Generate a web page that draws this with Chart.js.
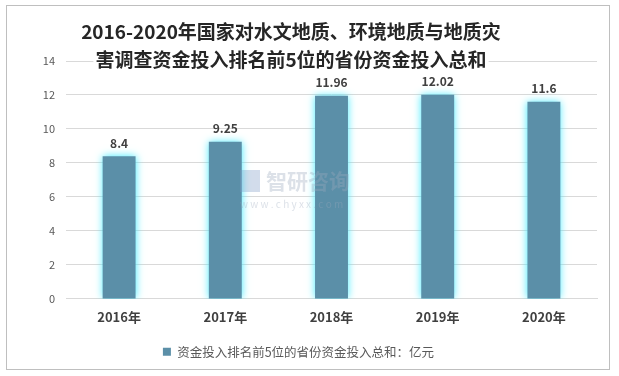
<!DOCTYPE html>
<html>
<head>
<meta charset="utf-8">
<script src="https://cdn.jsdelivr.net/npm/chart.js@4/dist/chart.umd.min.js"></script>
<style>
  html, body { margin: 0; padding: 0; background: #fff; }
  #wrap { position: relative; width: 619px; height: 376px; }
  #frame { position: absolute; left: 6px; top: 5px; width: 602px; height: 363px; border: 1px solid #bfbfbf; pointer-events: none; }
</style>
</head>
<body>
<div id="wrap">
  <canvas id="grafico" width="619" height="376"></canvas>
  <div id="frame"></div>
</div>
<script>
const ctxId = 'grafico';

var anios = ["2016年", "2017年", "2018年", "2019年", "2020年"];
var inversion = [8.4, 9.25, 11.96, 12.02, 11.6];
var yTicks = [0, 2, 4, 6, 8, 10, 12, 14];
var serieNombre = "资金投入排名前5位的省份资金投入总和：亿元";
var tituloLineas = ["2016-2020年国家对水文地质、环境地质与地质灾", "害调查资金投入排名前5位的省份资金投入总和"];

const fuente = "'Microsoft YaHei', 'Noto Sans CJK SC', sans-serif";

// glow around bars
const brillo = {
    id: 'brillo',
    beforeDatasetsDraw(chart) {
        const c = chart.ctx;
        c.save();
        c.shadowColor = 'rgba(70, 235, 255, 1)';
        c.shadowBlur = 8;
    },
    afterDatasetsDraw(chart) {
        chart.ctx.restore();
    }
};

// value labels, title and watermark
const textos = {
    id: 'textos',
    afterDraw(chart) {
        const c = chart.ctx;
        const meta = chart.getDatasetMeta(0);
        c.save();
        c.fillStyle = '#404040';
        c.font = "bold 12px " + fuente;
        c.textAlign = 'center';
        c.textBaseline = 'bottom';
        meta.data.forEach(function (bar, i) {
            c.fillText(String(inversion[i]), bar.x, bar.y - 7);
        });

        // watermark
        c.globalAlpha = 0.35;
        c.fillStyle = '#9aa9bd';
        c.font = "bold 21px " + fuente;
        c.textAlign = 'left';
        c.textBaseline = 'middle';
        c.fillText("智研咨询", 266, 181);
        c.font = "10px " + fuente;
        c.fillText("w w w . c h y x x . c o m", 240, 204);
        c.fillStyle = '#7f9cc7';
        c.fillRect(240, 170, 20, 22);
        c.globalAlpha = 1;

        // title
        c.font = "bold 19px " + fuente;
        c.textAlign = 'center';
        c.textBaseline = 'middle';
        const w2 = c.measureText(tituloLineas[1]).width;
        c.fillStyle = '#ffffff';
        c.fillRect(291 - w2 / 2 - 2, 51, w2 + 4, 20);
        c.fillStyle = '#262626';
        c.fillText(tituloLineas[0], 291, 32);
        c.fillText(tituloLineas[1], 291, 60);
        c.restore();
    }
};

const graficoInversion = new Chart(ctxId, {
    type: 'bar',
    data: {
        labels: anios,
        datasets: [{
            label: serieNombre,
            data: inversion,
            backgroundColor: '#5b8fa8',
            borderWidth: 0,
            categoryPercentage: 1,
            barPercentage: 0.31
        }]
    },
    options: {
        responsive: false,
        animation: false,
        devicePixelRatio: 1,
        layout: {
            padding: { top: 61, left: 0, right: 22, bottom: 8 }
        },
        scales: {
            y: {
                min: 0,
                max: 14,
                afterBuildTicks(scale) {
                    scale.ticks = yTicks.map(v => ({ value: v }));
                },
                afterFit(scale) { scale.width = 66; },
                border: { display: false },
                grid: { color: '#d9d9d9', drawTicks: false },
                ticks: {
                    padding: 11,
                    color: '#595959',
                    font: { size: 11, family: fuente }
                }
            },
            x: {
                grid: { display: false },
                border: { color: '#d9d9d9' },
                ticks: {
                    padding: 2,
                    color: '#404040',
                    font: { size: 13, weight: 'bold', family: fuente }
                }
            }
        },
        plugins: {
            title: { display: false },
            tooltip: { enabled: false },
            legend: {
                display: true,
                position: 'bottom',
                labels: {
                    boxWidth: 8,
                    boxHeight: 8,
                    padding: 19,
                    color: '#595959',
                    font: { size: 12.5, family: fuente }
                }
            }
        }
    },
    plugins: [brillo, textos]
});
</script>
</body>
</html>
